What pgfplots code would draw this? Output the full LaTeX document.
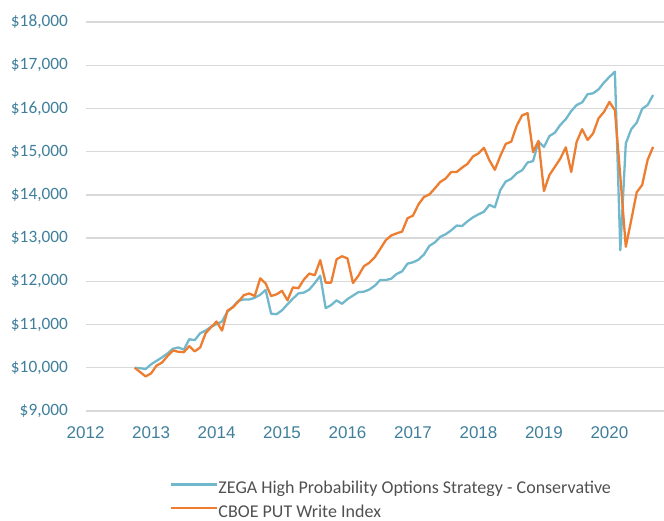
\documentclass[border=0pt]{standalone}
\usepackage{fontspec}
\setmainfont{Carlito}
\newfontfamily\arialf{Liberation Sans}
\usepackage{pgfplots}
\pgfplotsset{compat=1.18}
\usepackage{pgfplotstable}
\definecolor{zega}{HTML}{72B8CC}
\definecolor{cboe}{HTML}{ED7D31}
\definecolor{tickc}{HTML}{3F7F9B}
\definecolor{gridc}{HTML}{D9D9D9}
\definecolor{legc}{HTML}{505050}

% t = months since Oct 2012
\pgfplotstableread{
t zega cboe
0 10000 10000
1 9990 9900
2 9970 9800
3 10080 9870
4 10160 10050
5 10240 10120
6 10330 10270
7 10440 10400
8 10470 10370
9 10420 10360
10 10660 10500
11 10640 10380
12 10800 10470
13 10860 10800
14 10950 10940
15 11010 11070
16 11070 10860
17 11300 11320
18 11410 11400
19 11550 11530
20 11580 11680
21 11580 11720
22 11620 11660
23 11690 12070
24 11800 11950
25 11250 11660
26 11240 11700
27 11330 11780
28 11470 11560
29 11600 11860
30 11720 11840
31 11740 12040
32 11810 12180
33 11960 12140
34 12130 12490
35 11380 11970
36 11450 11970
37 11560 12510
38 11480 12580
39 11590 12530
40 11670 11960
41 11750 12130
42 11760 12350
43 11810 12430
44 11900 12560
45 12030 12750
46 12030 12950
47 12060 13060
48 12170 13110
49 12230 13150
50 12410 13460
51 12440 13520
52 12500 13780
53 12620 13950
54 12820 14010
55 12900 14150
56 13030 14300
57 13090 14380
58 13180 14530
59 13290 14530
60 13280 14630
61 13390 14720
62 13480 14890
63 13550 14960
64 13610 15090
65 13770 14800
66 13710 14580
67 14110 14900
68 14310 15180
69 14370 15230
70 14500 15600
71 14570 15840
72 14750 15890
73 14780 14990
74 15230 15250
75 15110 14090
76 15360 14460
77 15440 14650
78 15620 14840
79 15750 15100
80 15940 14530
81 16080 15230
82 16140 15520
83 16330 15270
84 16350 15420
85 16440 15770
86 16600 15920
87 16730 16150
88 16850 15960
89 12720 14420
90 15190 12800
91 15520 13420
92 15670 14060
93 15990 14230
94 16080 14810
95 16310 15110
}\data

\begin{document}
\begin{tikzpicture}
\begin{axis}[
  scale only axis, width=578.4pt, height=389pt,
  xmin=-9, xmax=97, ymin=9000, ymax=18000,
  scaled y ticks=false, scaled x ticks=false,
  xtick={-9,3,15,27,39,51,63,75,87},
  xticklabels={2012,2013,2014,2015,2016,2017,2018,2019,2020},
  ytick={9000,10000,11000,12000,13000,14000,15000,16000,17000,18000},
  yticklabels={{\$9,000},{\$10,000},{\$11,000},{\$12,000},{\$13,000},{\$14,000},{\$15,000},{\$16,000},{\$17,000},{\$18,000}},
  axis line style={draw=none},
  major tick length=0pt,
  tick style={draw=none},
  ymajorgrids, major grid style={draw=gridc, line width=1.3pt},
  xticklabel style={font=\arialf\fontsize{17}{20}\selectfont, text=tickc, anchor=north, inner sep=0pt, yshift=-15pt},
  yticklabel style={font=\fontsize{17.3}{20}\selectfont, text=tickc, anchor=east, inner sep=0pt, xshift=-17.5pt},
  legend style={draw=none, fill=none, at={(0.1459,-0.181)}, anchor=north west, inner sep=0pt,
    font=\fontsize{18}{20}\selectfont, text=legc, row sep=7.5pt,
    nodes={inner sep=0pt, text height=12pt, text depth=4pt}},
  legend cell align=left,
  /tikz/every even column/.append style={column sep=11pt},
  legend image code/.code={\draw[#1] (0pt,5pt) -- (46pt,5pt);},
]
\addplot[zega, line width=2.3pt, line join=round] table[x=t, y=zega] {\data};
\addlegendentry{ZEGA High Probability Options Strategy - Conservative}
\addplot[cboe, line width=2.3pt, line join=round] table[x=t, y=cboe] {\data};
\addlegendentry{CBOE PUT Write Index}
\end{axis}
\pgfresetboundingbox
\useasboundingbox (-85.6pt,-110pt) rectangle (578.4pt,411pt);
\end{tikzpicture}
\end{document}
